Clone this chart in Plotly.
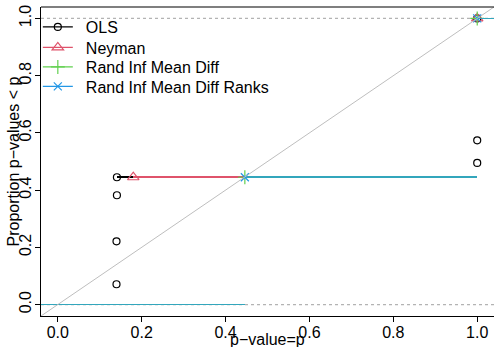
import plotly.graph_objects as go

# axis limits (R default 4% extension)
x_lo, x_hi = -0.04, 1.04
y_lo, y_hi = -0.04, 1.04

tick_vals = [0.0, 0.2, 0.4, 0.6, 0.8, 1.0]
tick_text = ["0.0", "0.2", "0.4", "0.6", "0.8", "1.0"]

# empirical CDF jump points (p-value, proportion)
ols_p = [0.140, 0.140, 0.141, 0.141, 1.0, 1.0, 1.0]
ols_prop = [0.071, 0.221, 0.382, 0.445, 0.495, 0.574, 1.0]
neyman_p = [0.18, 1.0]
neyman_prop = [0.445, 1.0]
rand_p = [0.446, 1.0]
rand_prop = [0.445, 1.0]
ranks_p = [0.446, 1.0]
ranks_prop = [0.445, 1.0]

series_names = ["OLS", "Neyman", "Rand Inf Mean Diff", "Rand Inf Mean Diff Ranks"]
series_p = [ols_p, neyman_p, rand_p, ranks_p]
series_prop = [ols_prop, neyman_prop, rand_prop, ranks_prop]
series_colors = ["black", "#DF536B", "#61D04F", "#2297E6"]
series_symbols = ["circle-open", "triangle-up-open", "cross-thin-open", "x-thin-open"]
series_msize = [7, 10, 10, 8]
series_opacity = [1.0, 1.0, 1.0, 0.72]

FONT = "Liberation Sans, Arial, Helvetica, sans-serif"

# plot area in pixels (for legend placement)
FIG_W, FIG_H = 494, 347
M_L, M_R, M_T, M_B = 41, 0, 7, 31
PLOT_H = FIG_H - M_T - M_B
legend_rows_px = [27, 47.5, 67, 86.5]

fig = go.Figure()


def step_segments(ps, props):
    xs, ys = [x_lo, ps[0], None], [0.0, 0.0, None]
    for i in range(len(ps)):
        nxt = ps[i + 1] if i + 1 < len(ps) else x_hi
        xs += [ps[i], nxt, None]
        ys += [props[i], props[i], None]
    return xs, ys


legend_layouts = {}
for k in range(len(series_names)):
    name, ps, props = series_names[k], series_p[k], series_prop[k]
    col, sym, msize, op = series_colors[k], series_symbols[k], series_msize[k], series_opacity[k]
    lg = "legend" if k == 0 else f"legend{k + 1}"
    xs, ys = step_segments(ps, props)
    fig.add_trace(go.Scatter(x=xs, y=ys, mode="lines", showlegend=False,
                             line=dict(color=col, width=1.5), opacity=op,
                             hoverinfo="skip"))
    fig.add_trace(go.Scatter(x=ps, y=props, mode="markers", showlegend=False,
                             marker=dict(symbol=sym, size=msize, color=col,
                                         line=dict(color=col, width=1.2))))
    fig.add_trace(go.Scatter(x=[None], y=[None], mode="lines+markers",
                             name="\u2002" + name, legend=lg,
                             line=dict(color=col, width=1.2),
                             marker=dict(symbol=sym, size=msize, color=col,
                                         line=dict(color=col, width=1.2))))
    legend_layouts[lg] = dict(x=-0.007, y=(FIG_H - M_B - legend_rows_px[k]) / PLOT_H,
                              xanchor="left", yanchor="middle",
                              bgcolor="rgba(0,0,0,0)", font=dict(size=16),
                              itemwidth=30, tracegroupgap=0)

shapes = []
for h in (0.0, 1.0):
    shapes.append(dict(type="line", xref="paper", yref="y", x0=0, x1=1, y0=h, y1=h,
                       line=dict(color="#b3b3b3", width=1.2, dash="dot"), layer="below"))
shapes.append(dict(type="line", xref="x", yref="y", x0=x_lo, y0=x_lo, x1=x_hi, y1=x_hi,
                   line=dict(color="#bebebe", width=1), layer="above"))
# top border of the box
shapes.append(dict(type="line", xref="paper", yref="paper", x0=0, x1=1, y0=1, y1=1,
                   line=dict(color="black", width=1.2)))

fig.update_layout(
    width=FIG_W, height=FIG_H,
    margin=dict(l=M_L, r=M_R, t=M_T, b=M_B),
    plot_bgcolor="white", paper_bgcolor="white",
    font=dict(family=FONT, size=16, color="black"),
    shapes=shapes,
    showlegend=True,
    xaxis=dict(range=[x_lo, x_hi], tickvals=tick_vals, ticktext=tick_text,
               showgrid=False, zeroline=False, showline=True, linecolor="black",
               linewidth=1.2, ticks="outside", ticklen=5, tickcolor="black",
               tickfont=dict(size=16), ticklabelstandoff=-3),
    yaxis=dict(range=[y_lo, y_hi], tickvals=tick_vals, ticktext=tick_text,
               showgrid=False, zeroline=False, showline=True, linecolor="black",
               linewidth=1.2, ticks="outside", ticklen=5, tickcolor="black",
               tickangle=-90, tickfont=dict(size=16), ticklabelstandoff=-2),
    annotations=[
        dict(text="p\u2212value=p", xref="paper", yref="paper", x=0.5, y=0,
             yshift=-13, yanchor="top", showarrow=False, font=dict(size=16)),
        dict(text="Proportion p\u2212values < p", xref="paper", yref="paper",
             x=0, xshift=-28, y=0.5, textangle=-90, xanchor="center",
             showarrow=False, font=dict(size=16)),
    ],
    **legend_layouts,
)

post = (
    "document.body.style.margin='0';document.body.style.padding='0';"
    "document.querySelectorAll('.scatterlayer .js-line').forEach(function(p){"
    "p.style.shapeRendering='crispEdges';});"
)
fig.write_html("out.html", config={"displayModeBar": False}, post_script=post)
